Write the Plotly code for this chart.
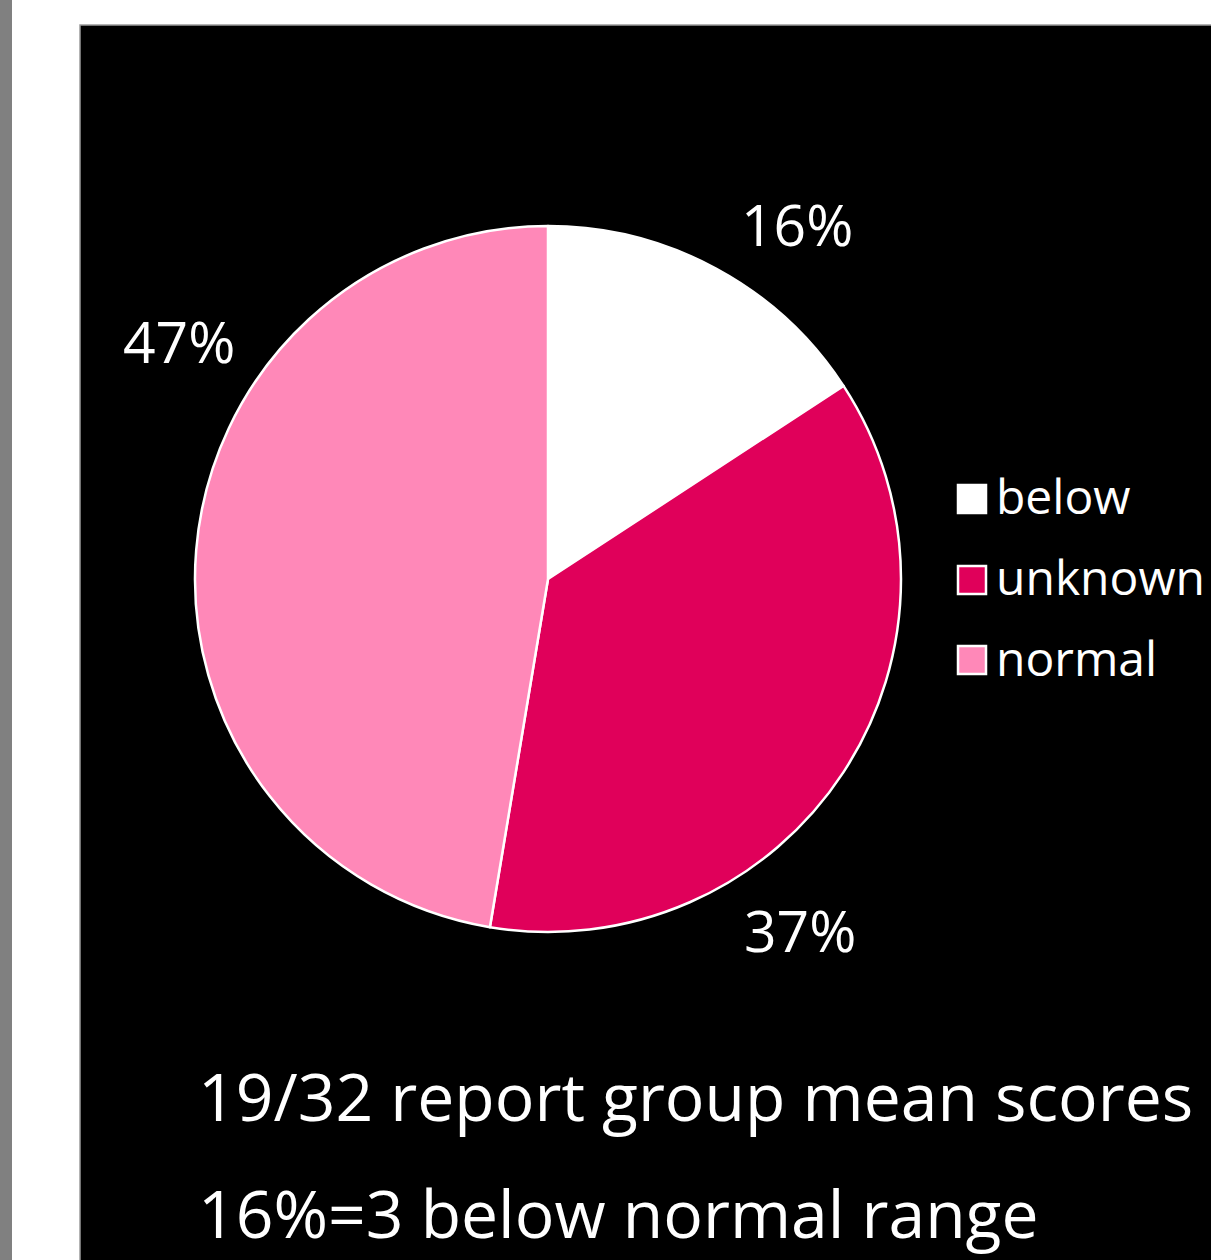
import plotly.graph_objects as go

# ---- data ----
labels = ["below", "unknown", "normal"]
counts = [3, 7, 9]          # of 19 reporting groups
colors = ["#FFFFFF", "#E0005A", "#FF88B8"]
note_lines = ["19/32 report group mean scores", "16%=3 below normal range"]

W, H = 1211, 1260
FONT = "Open Sans"

def px(x):
    return x / W

def py(y):
    return 1 - y / H

total = sum(counts)
pcts = [round(100 * c / total) for c in counts]

fig = go.Figure()
fig.add_trace(go.Pie(
    labels=labels,
    values=counts,
    sort=False,
    direction="clockwise",
    rotation=0,
    marker=dict(colors=colors, line=dict(color="#FFFFFF", width=2.5)),
    textinfo="none",
    hoverinfo="label+percent",
    showlegend=False,
    domain=dict(x=[px(194), px(902)], y=[py(932), py(226)]),
))

shapes = [
    dict(type="rect", xref="paper", yref="paper", x0=0, x1=px(12), y0=0, y1=1,
         fillcolor="#808080", line=dict(width=0), layer="below"),
    dict(type="rect", xref="paper", yref="paper", x0=px(80), x1=px(1215), y0=py(1265), y1=py(25),
         fillcolor="#000000", line=dict(color="#9a9a9a", width=1.5), layer="below"),
]

annotations = []
label_pos = [(797, 224), (800, 930), (179, 341)]
for p, (lx, ly) in zip(pcts, label_pos):
    annotations.append(dict(
        xref="paper", yref="paper", x=px(lx), y=py(ly), xanchor="center", yanchor="middle",
        text=f"{p}%", showarrow=False, font=dict(family=FONT, size=57, color="#FFFFFF"),
    ))

legend_y = [499, 580, 660]
for lab, col, ly in zip(labels, colors, legend_y):
    shapes.append(dict(
        type="rect", xref="paper", yref="paper",
        x0=px(958), x1=px(986), y0=py(ly + 14), y1=py(ly - 14),
        fillcolor=col, line=dict(color="#FFFFFF", width=2.5),
    ))
    annotations.append(dict(
        xref="paper", yref="paper", x=px(994), y=py(ly - 3), xanchor="left", yanchor="middle",
        text=lab, showarrow=False, font=dict(family=FONT, size=48, color="#FFFFFF"),
    ))

note_y = [1095, 1212]
for t, ny in zip(note_lines, note_y):
    annotations.append(dict(
        xref="paper", yref="paper", x=px(196), y=py(ny), xanchor="left", yanchor="middle",
        text=t, showarrow=False, font=dict(family=FONT, size=66, color="#FFFFFF"),
    ))

fig.update_layout(
    width=W, height=H,
    margin=dict(l=0, r=0, t=0, b=0),
    paper_bgcolor="#FFFFFF",
    plot_bgcolor="#FFFFFF",
    shapes=shapes,
    annotations=annotations,
)

fig.write_html("out.html")
